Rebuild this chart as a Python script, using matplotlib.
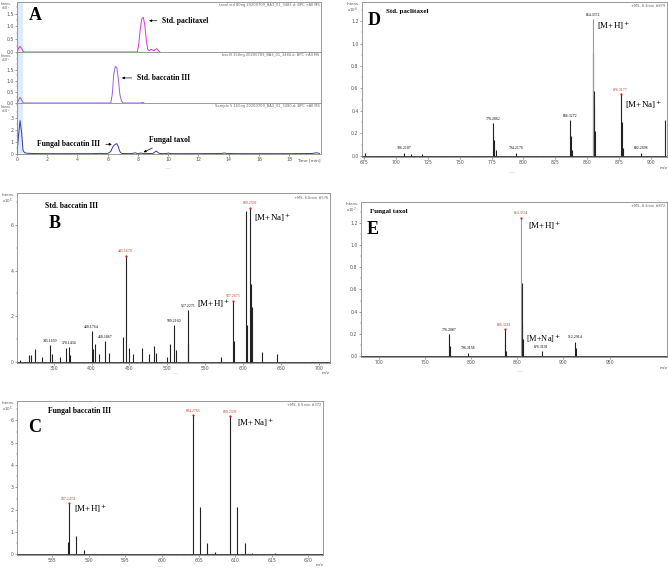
import matplotlib
matplotlib.use('Agg')
from matplotlib import pyplot as plt
from matplotlib.ticker import AutoMinorLocator

plt.rcParams['font.family'] = ['DejaVu Sans']

# ---- panel A: chromatograms (time in min, intensity) ----
t_top = [0.0, 0.1, 0.2, 0.3, 0.4, 0.5, 7.95, 8.05, 8.15, 8.25, 8.35, 8.45, 8.55,
         8.65, 8.75, 8.85, 8.95, 9.05, 9.15, 9.25, 9.35, 9.45]
y_top = [0.0, 0.15, 0.22, 0.15, 0.02, 0.0, 0.0, 0.3, 0.9, 1.3, 1.35, 1.05, 0.45,
         0.1, 0.05, 0.1, 0.08, 0.05, 0.1, 0.13, 0.05, 0.0]

t_mid = [0.0, 0.1, 0.2, 0.3, 0.4, 0.5, 6.2, 6.3, 6.4, 6.5, 6.6, 6.7, 6.8, 6.9, 7.0,
         8.2, 8.3, 8.4]
y_mid = [0.0, 0.12, 0.25, 0.15, 0.02, 0.0, 0.0, 0.4, 1.3, 1.65, 1.6, 1.1, 0.4, 0.1, 0.0,
         0.0, 0.03, 0.0]

t_bot = [0, 0.1, 0.2, 0.3, 0.4, 0.5, 0.7, 1.0, 2, 3, 4, 5, 5.5, 5.8, 6.0, 6.2, 6.3,
         6.4, 6.5, 6.6, 6.7, 6.8, 6.9, 7.0, 7.5, 7.7, 7.8, 7.9, 8.0, 8.2, 8.3, 8.5,
         9.0, 9.1, 9.2, 9.3, 9.4, 9.6, 9.9, 10.0, 10.1, 10.3, 12, 13.5, 13.7, 13.9,
         14.5, 16, 18, 19.5, 19.8, 20]
y_bot = [0.05, 1.5, 2.75, 1.8, 0.3, 0.1, 0.06, 0.04, 0.03, 0.03, 0.03, 0.03, 0.05,
         0.03, 0.05, 0.2, 0.5, 0.7, 0.8, 0.85, 0.6, 0.2, 0.06, 0.04, 0.03, 0.06, 0.1,
         0.06, 0.03, 0.08, 0.05, 0.03, 0.05, 0.15, 0.25, 0.15, 0.05, 0.03, 0.04, 0.08,
         0.04, 0.03, 0.03, 0.04, 0.08, 0.04, 0.03, 0.03, 0.03, 0.04, 0.1, 0.05]

# ---- panel D: std paclitaxel (m/z, x10^6) ----
mz_d = [675.5, 706.2107, 712.0, 720.0, 776.2062, 777.2, 778.2, 794.2176, 836.3272,
        837.3, 838.3, 854.6, 855.3, 855.6, 856.3, 876.3177, 877.3, 878.3,
        892.2698, 911.5]
int_d = [0.03, 0.03, 0.02, 0.015, 0.29, 0.14, 0.05, 0.03, 0.32, 0.18, 0.05,
         0.92, 0.58, 0.44, 0.22, 0.55, 0.3, 0.07, 0.03, 0.32]
main_d = [854.3372, 1.22]
lab_d = [706.2107, 776.2062, 794.2176, 836.3272, 892.2698]
red_d = [876.3177]

# ---- panel E: fungal taxol (m/z, x10^7) ----
mz_e = [776.2087, 777.2, 796.3158, 836.3281, 837.3, 838.3, 855.0, 855.6, 856.3,
        876.3191, 912.2914, 913.3]
int_e = [0.2, 0.09, 0.03, 0.24, 0.11, 0.04, 0.66, 0.3, 0.15, 0.04, 0.13, 0.07]
main_e = [854.3354, 1.25]
lab_e = [776.2087, 796.3158, 876.3191, 912.2914]
red_e = [836.3281, 854.3354]

# ---- panel B: std baccatin III (m/z, x10^5) ----
mz_b = [306, 318, 320, 325, 335, 345.1659, 348, 358, 366, 370.1434, 372, 400.1764,
        402, 405, 410, 418.1867, 423, 441.5, 445.167, 449, 455, 466, 476, 483, 485,
        500, 504, 509.216, 511, 527.2271, 528, 571, 587.2673, 588, 604.4, 605.5,
        609.2592, 610.5, 611.5, 625, 645]
int_b = [0.1, 0.28, 0.3, 0.55, 0.2, 0.75, 0.35, 0.2, 0.6, 0.65, 0.3, 1.34,
         0.55, 0.8, 0.35, 0.9, 0.4, 1.1, 4.63, 0.6, 0.35, 0.6, 0.35, 0.7, 0.4,
         0.2, 0.8, 1.63, 0.5, 2.29, 0.8, 0.2, 2.66, 0.9, 6.6, 1.6,
         6.74, 3.4, 2.4, 0.45, 0.35]
lab_b = [345.1659, 370.1434, 400.1764, 418.1867, 509.216, 527.2271]
red_b = [445.167, 587.2673, 609.2592]

# ---- panel C: fungal baccatin III (m/z, x10^5) ----
mz_c = [587.1, 587.2474, 588.3, 589.3, 604.2765, 605.2, 606.2, 607.3, 609.2393,
        610.3, 611.3, 612.3, 615.4]
int_c = [0.55, 2.32, 0.8, 0.18, 6.23, 2.1, 0.5, 0.1, 6.19, 2.1, 0.5, 0.08, 0.05]
red_c = [587.2474, 604.2765, 609.2393]

W, H = 668.0, 569.0
fig = plt.figure(figsize=(6.68, 5.69), dpi=100)
serif = ['Liberation Serif', 'DejaVu Serif']


def box(px):
    l, r, t, b = px
    return [l / W, 1 - b / H, (r - l) / W, (b - t) / H]


def style(ax, xmajor=None, ymajor=None):
    for s in ax.spines.values():
        s.set_color('#8a8a8a')
        s.set_linewidth(0.6)
    ax.tick_params(labelsize=3.3, length=1.5, width=0.4, colors='#555555', pad=1)
    ax.xaxis.set_minor_locator(AutoMinorLocator(5))
    ax.yaxis.set_minor_locator(AutoMinorLocator(2))
    ax.tick_params(which='minor', length=0.8, width=0.3, colors='#777777')
    if xmajor is not None:
        ax.set_xticks(xmajor)
    if ymajor is not None:
        ax.set_yticks(ymajor)


def intens(left, top, power, size=2.8, ls=0.9):
    fig.text((left - 15) / W, 1 - top / H, 'Intens.\nx10$^{%d}$' % power,
             fontsize=size, color='#555555', ha='left', va='top', linespacing=ls)


def header(ax, txt):
    ax.text(0.995, 0.985, txt, transform=ax.transAxes, fontsize=2.6,
            color='#666666', ha='right', va='top')


def label_peaks(ax, mz, inten, which, color, dy):
    for m in which:
        i = mz.index(m)
        ax.text(m, inten[i] + dy, '%.4f' % m, fontsize=2.8, color=color,
                ha='center', va='bottom', family=serif)
        if color != 'black':
            ax.plot(m, inten[i], 'o', color='#d42020', ms=1.6, mew=0)


# ---------------- A ----------------
axA = []
for px, t, y, col, ylim, yt, p, hd in [
        ((17, 321, 2, 52), t_top, y_top, '#e030e0', 1.95, [0, 0.5, 1.0, 1.5], 7,
         'taxol std 80ng 20200709_BA3_01_3483.d: BPC +All MS'),
        ((17, 321, 52, 103), t_mid, y_mid, '#9a5fd6', 2.3, [0, 0.5, 1.0, 1.5], 7,
         'bacIII 150ng 20200709_BA3_01_3484.d: BPC +All MS'),
        ((17, 321, 103, 154), t_bot, y_bot, '#3a3aa8', 4.2, [0, 1, 2, 3], 6,
         'Sample 5 150ng 20200709_BA3_01_3490.d: BPC +All MS')]:
    ax = fig.add_axes(box(px))
    ax.axvspan(0.0, 0.4, color='#dcecf8', lw=0)
    ax.axvline(0.03, color='#7aaee0', lw=0.5, ls=':')
    ax.plot(t, y, color=col, lw=0.7)
    ax.set_xlim(0, 20.1)
    ax.set_ylim(0, ylim)
    style(ax, xmajor=range(0, 20, 2), ymajor=yt)
    ax.set_yticklabels(['%g' % v if p == 6 else '%.1f' % v for v in yt])
    intens(px[0] - 1, px[2] + (0 if px[2] < 10 else 2), p, size=2.3, ls=0.8)
    header(ax, hd)
    axA.append(ax)

axA[0].tick_params(labelbottom=False)
axA[1].tick_params(labelbottom=False)
axA[2].text(19.3, -0.5, 'Time [min]', fontsize=3.2, color='#555555',
            ha='center', va='center')
axA[0].text(0.04, 0.72, 'A', transform=axA[0].transAxes, fontsize=13,
            fontweight='bold', family=serif, va='center')

bold = dict(fontsize=5.5, fontweight='bold', family=serif, va='center')
arw = dict(arrowstyle='-|>', lw=0.5, color='black', mutation_scale=3.5)
axA[0].annotate('Std. paclitaxel', xy=(8.55, 1.22), xytext=(9.6, 1.22),
                arrowprops=arw, **bold)
axA[1].annotate('Std. baccatin III', xy=(6.75, 1.13), xytext=(7.95, 1.13),
                arrowprops=arw, **bold)
axA[2].annotate('Fungal baccatin III', xy=(6.45, 0.8), xytext=(5.5, 0.8),
                arrowprops=arw, ha='right', fontsize=5.5, fontweight='bold',
                family=serif, va='center')
axA[2].annotate('Fungal taxol', xy=(8.2, 0.05), xytext=(8.7, 1.15),
                arrowprops=arw, **bold)

# ---------------- D ----------------
axD = fig.add_axes(box((362, 667, 2, 157)))
axD.axhline(0, color='black', lw=0.5)
axD.vlines(mz_d, 0, int_d, color='#222222', lw=0.8)
axD.vlines(main_d[0], 0, main_d[1], color='#9a9a9a', lw=0.8)
axD.set_xlim(673.2, 912.7)
axD.set_ylim(-0.01, 1.37)
style(axD, xmajor=range(675, 901, 25), ymajor=[0, 0.2, 0.4, 0.6, 0.8, 1.0, 1.2])
axD.set_yticklabels(['0.0', '0.2', '0.4', '0.6', '0.8', '1.0', '1.2'])
label_peaks(axD, mz_d, int_d, lab_d, 'black', 0.02)
label_peaks(axD, mz_d + [main_d[0]], int_d + [main_d[1]], [main_d[0]], 'black', 0.02)
label_peaks(axD, mz_d, int_d, red_d, '#c0392b', 0.02)
axD.text(0.02, 0.88, 'D', transform=axD.transAxes, fontsize=13, fontweight='bold',
         family=serif, va='center')
axD.text(0.08, 0.94, 'Std. paclitaxel', transform=axD.transAxes, fontsize=5,
         fontweight='bold', family=serif, va='center')
axD.text(858, 1.16, '[M+H]$^+$', fontsize=6.5, family=serif, va='center')
axD.text(880, 0.46, '[M+Na]$^+$', fontsize=6.5, family=serif, va='center')
axD.text(1.0, -0.055, 'm/z', transform=axD.transAxes, fontsize=3.2,
         color='#555555', ha='right', va='top')
intens(362, 2, 6)
header(axD, '+MS, 8.3min #879')

# ---------------- E ----------------
axE = fig.add_axes(box((361, 667, 202, 357)))
axE.axhline(0, color='black', lw=0.5)
axE.vlines(mz_e, 0, int_e, color='#222222', lw=0.8)
axE.vlines(main_e[0], 0, main_e[1], color='#9a9a9a', lw=0.8)
axE.set_xlim(681, 1012)
axE.set_ylim(-0.01, 1.39)
style(axE, xmajor=range(700, 951, 50), ymajor=[0, 0.2, 0.4, 0.6, 0.8, 1.0, 1.2])
axE.set_yticklabels(['0.0', '0.2', '0.4', '0.6', '0.8', '1.0', '1.2'])
label_peaks(axE, mz_e, int_e, lab_e, 'black', 0.02)
label_peaks(axE, mz_e + [main_e[0]], int_e + [main_e[1]], red_e, '#c0392b', 0.02)
axE.text(0.02, 0.82, 'E', transform=axE.transAxes, fontsize=13, fontweight='bold',
         family=serif, va='center')
axE.text(0.03, 0.94, 'Fungal taxol', transform=axE.transAxes, fontsize=5,
         fontweight='bold', family=serif, va='center')
axE.text(862, 1.18, '[M+H]$^+$', fontsize=6.5, family=serif, va='center')
axE.text(860, 0.16, '[M+Na]$^+$', fontsize=6, family=serif, va='center')
axE.text(1.0, -0.055, 'm/z', transform=axE.transAxes, fontsize=3.2,
         color='#555555', ha='right', va='top')
intens(361, 202, 7)
header(axE, '+MS, 8.2min #872')

# ---------------- B ----------------
axB = fig.add_axes(box((17, 330, 193, 363)))
axB.axhline(0, color='black', lw=0.5)
axB.vlines(mz_b, 0, int_b, color='#222222', lw=0.8)
axB.set_xlim(301.5, 715)
axB.set_ylim(-0.05, 7.4)
style(axB, xmajor=range(350, 701, 50), ymajor=[0, 2, 4, 6])
label_peaks(axB, mz_b, int_b, lab_b, 'black', 0.08)
label_peaks(axB, mz_b, int_b, red_b, '#c0392b', 0.12)
axB.text(0.1, 0.82, 'B', transform=axB.transAxes, fontsize=13, fontweight='bold',
         family=serif, va='center')
axB.text(0.09, 0.925, 'Std. baccatin III', transform=axB.transAxes, fontsize=5.5,
         fontweight='bold', family=serif, va='center')
axB.text(584, 2.55, '[M+H]$^+$', fontsize=6.5, family=serif, va='center',
         ha='right')
axB.text(614, 6.3, '[M+Na]$^+$', fontsize=6.5, family=serif, va='center')
axB.text(1.0, -0.05, 'm/z', transform=axB.transAxes, fontsize=3.2,
         color='#555555', ha='right', va='top')
intens(17, 193, 5)
header(axB, '+MS, 6.6min #576')

# ---------------- C ----------------
axC = fig.add_axes(box((17, 323, 401, 555)))
axC.axhline(0, color='black', lw=0.5)
axC.vlines(mz_c, 0, int_c, color='#222222', lw=0.8)
axC.set_xlim(580.2, 622)
axC.set_ylim(-0.03, 6.87)
style(axC, xmajor=range(585, 621, 5), ymajor=[0, 1, 2, 3, 4, 5, 6])
label_peaks(axC, mz_c, int_c, red_c, '#c0392b', 0.08)
axC.text(0.035, 0.83, 'C', transform=axC.transAxes, fontsize=13, fontweight='bold',
         family=serif, va='center')
axC.text(0.1, 0.935, 'Fungal baccatin III', transform=axC.transAxes, fontsize=5.5,
         fontweight='bold', family=serif, va='center')
axC.text(588.0, 2.05, '[M+H]$^+$', fontsize=6.5, family=serif, va='center')
axC.text(610.2, 5.9, '[M+Na]$^+$', fontsize=6.5, family=serif, va='center')
axC.text(1.0, -0.05, 'm/z', transform=axC.transAxes, fontsize=3.2,
         color='#555555', ha='right', va='top')
intens(17, 401, 5)
header(axC, '+MS, 6.5min #372')

# little scroll marks under each trace window
for x, y in [(168, 168), (512, 172), (175, 373), (520, 371), (160, 566)]:
    fig.text(x / W, 1 - y / H, '\u2014\u2014', fontsize=2.5, color='#bbbbbb',
             ha='center', va='center')

plt.savefig('out.png', dpi=100)
